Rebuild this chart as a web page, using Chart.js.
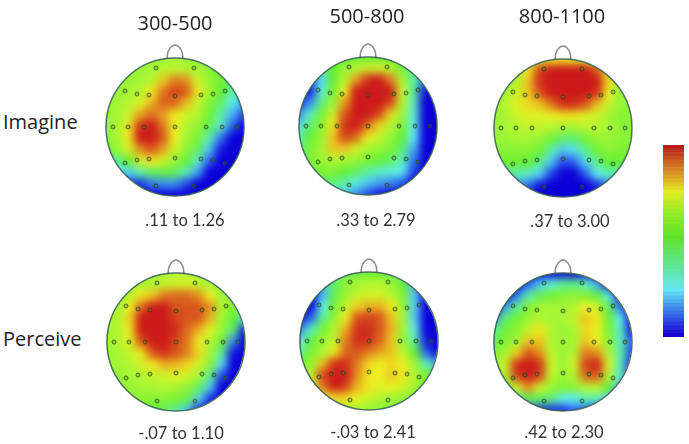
<!DOCTYPE html>
<html>
<head>
<meta charset="utf-8">
<title>Scalp maps</title>
<script src="https://cdn.jsdelivr.net/npm/chart.js@4"></script>
<style>
    html, body { margin: 0; padding: 0; background: #fff; }
    #page { position: relative; width: 689px; height: 444px; overflow: hidden; }
    .heat, .ring { position: absolute; width: 180px; height: 180px; }
    .heat { clip-path: circle(69px at 90px 90px); }
    .heat canvas { filter: blur(4.5px); }
    .label { position: absolute; transform: translate(-50%, -50%); white-space: nowrap; color: #222; }
    .title { font: 20px "Open Sans", sans-serif; }
    .row { font: 20px "Open Sans", sans-serif; transform: translate(0, -50%); }
    .range { font: 16.5px Lato, sans-serif; color: #333; }
    #bar { position: absolute; left: 663px; top: 145px; }
    #bar canvas { filter: blur(0.6px); }
</style>
</head>
<body>
<div id="page"></div>
<script>
// Window labels, condition labels and the range printed under each map
const windows = ['300-500', '500-800', '800-1100'];
const conditions = ['Imagine', 'Perceive'];
const imagineRanges = ['.11 to 1.26', '.33 to 2.79', '.37 to 3.00'];
const perceiveRanges = ['-.07 to 1.10', '-.03 to 2.41', '.42 to 2.30'];

// Amplitude on a 0-100 colour scale, 13 x 13 samples across each head, front row first
const imagine300 = [
    [58,58,58,58,58,58,60,58,56,54,50,46,42],
    [58,58,58,58,60,62,64,62,60,56,52,48,44],
    [58,58,58,60,62,75,84,82,66,58,52,45,38],
    [58,58,60,62,72,85,90,88,72,60,50,38,30],
    [58,60,62,68,78,87,86,76,64,55,45,30,20],
    [58,60,66,80,86,80,72,66,62,52,38,22,12],
    [58,60,72,92,96,85,70,62,58,48,32,14,6],
    [56,60,72,94,98,88,70,60,54,36,16,6,2],
    [50,58,66,82,88,80,66,58,46,24,8,2,0],
    [42,40,50,66,72,66,58,50,34,14,4,0,0],
    [28,28,25,38,45,48,46,36,20,6,0,0,0],
    [12,12,10,10,16,18,18,12,6,0,0,0,0],
    [2,2,2,2,2,2,2,0,0,0,0,0,0]
];
const imagine500 = [
    [40,40,44,50,50,50,50,50,50,46,40,30,20],
    [30,30,36,50,58,62,66,66,62,52,40,24,10],
    [14,14,26,50,62,80,92,94,84,62,40,18,5],
    [10,8,32,52,70,94,100,100,96,66,40,8,0],
    [10,18,42,58,80,98,100,100,90,64,36,4,0],
    [18,34,52,66,88,100,98,90,74,58,32,2,0],
    [26,44,56,72,92,94,86,74,62,54,30,2,0],
    [36,50,58,76,90,86,72,64,58,50,28,3,0],
    [40,54,60,76,76,66,60,58,54,44,22,4,0],
    [40,54,58,62,60,58,54,50,46,36,16,2,0],
    [44,50,54,54,50,46,40,34,32,28,12,0,0],
    [40,44,44,44,38,30,24,20,18,14,4,0,0],
    [30,30,30,30,24,18,12,8,6,4,0,0,0]
];
const imagine800 = [
    [60,60,60,62,66,70,72,70,66,62,60,60,60],
    [60,60,60,72,90,98,100,100,98,88,66,58,58],
    [58,58,62,76,92,100,100,100,100,96,74,58,55],
    [58,60,66,76,88,98,100,100,100,92,70,58,56],
    [58,62,68,74,76,84,92,92,88,76,64,58,56],
    [58,60,66,68,68,70,72,72,68,66,60,56,56],
    [58,60,62,64,64,62,60,60,62,62,60,56,56],
    [58,58,60,60,58,52,44,44,52,58,58,56,56],
    [56,56,56,56,52,38,24,26,40,52,56,54,54],
    [50,52,52,50,42,24,12,14,26,42,50,50,50],
    [40,40,38,34,26,12,4,6,14,28,36,38,40],
    [20,20,20,16,8,2,0,0,4,10,18,22,24],
    [5,5,5,4,2,0,0,0,0,2,4,5,5]
];
const perceive300 = [
    [60,60,60,60,60,60,62,62,60,58,56,54,50],
    [58,58,60,60,62,64,66,66,64,60,58,56,54],
    [58,58,62,72,76,84,86,86,82,70,60,56,50],
    [58,60,70,86,96,94,88,88,88,82,62,54,44],
    [60,62,74,96,100,98,90,88,88,78,60,50,34],
    [60,62,72,94,100,100,92,86,78,68,58,44,8],
    [60,62,68,88,98,98,90,84,72,62,52,18,2],
    [58,60,64,72,88,92,88,84,74,60,40,8,0],
    [58,60,62,66,72,78,78,74,66,56,26,4,0],
    [56,58,60,62,64,66,68,66,60,40,12,2,0],
    [54,56,58,60,60,62,60,58,46,24,6,0,0],
    [50,52,54,56,56,56,54,48,26,10,2,0,0],
    [50,50,50,50,50,46,40,24,8,0,0,0,0]
];
const perceive500 = [
    [30,30,30,36,44,48,50,50,46,36,20,10,5],
    [10,10,24,46,56,60,62,62,58,50,22,6,2],
    [2,2,22,46,58,64,66,66,62,54,24,4,0],
    [2,2,28,52,64,74,78,78,72,58,25,2,0],
    [8,14,40,56,70,88,90,88,76,60,24,2,0],
    [16,34,52,62,78,92,92,88,78,60,30,2,0],
    [28,48,58,64,84,92,92,86,76,58,38,8,2],
    [40,54,60,70,86,88,84,80,76,64,50,14,4],
    [50,58,76,92,92,84,74,70,74,70,58,36,20],
    [54,64,90,100,96,82,72,70,76,72,62,54,50],
    [50,66,84,98,90,78,72,68,70,66,60,52,44],
    [50,60,68,74,74,70,66,62,60,58,54,48,40],
    [50,56,60,62,62,60,58,56,54,52,48,44,40]
];
const perceive800 = [
    [0,0,0,0,2,4,6,6,4,2,0,0,0],
    [0,0,4,14,24,32,40,42,34,22,6,0,0],
    [0,4,16,36,46,52,55,56,54,48,30,8,0],
    [4,20,40,54,60,60,60,62,70,66,46,16,2],
    [18,44,52,58,62,60,60,64,76,72,52,28,4],
    [38,52,56,64,72,62,58,60,74,70,54,34,8],
    [48,54,60,76,76,62,58,60,76,70,56,36,14],
    [54,60,74,88,82,64,58,62,84,82,62,38,12],
    [56,66,92,100,92,66,58,66,90,94,68,36,10],
    [54,62,90,100,90,64,58,62,86,88,62,34,8],
    [44,52,66,82,66,58,54,56,62,64,50,24,4],
    [20,30,40,46,46,42,30,28,36,36,26,8,0],
    [6,10,14,14,10,10,10,14,14,10,4,0,0]
];

// Electrode montage, in head units where the scalp radius is 69
const electrodeX = [-19,19, -50,-38,-26,0,26,38,50, -62,-47,-31,0,31,47,62, -50,-38,-26,0,26,38,50, -19,19];
const electrodeY = [-59,-59, -36,-33,-32,-31,-32,-33,-36, 0,0,0,0,0,0,0, 36,33,32,31,32,33,36, 59,59];
const noseX = [-8,-7,-4,0,4,7,8];
const noseY = [-68,-75,-80,-82,-80,-75,-68];

// Levels shown in the colour bar, top to bottom
const barLevels = [100,98,96,94,92,90,88,86,84,82,80,78,76,74,72,70,68,66,64,62,60,58,56,54,52,
    50,48,46,44,42,40,38,36,34,32,30,28,26,24,22,20,18,16,14,12,10,8,6,4,2,0];

// Colour ramps: position on the scale, then rgb. The maps are blurred, so their ramp is tighter
const mapRamp = [
    [6, 12, 0, 216], [16, 50, 120, 240], [28, 96, 238, 245], [40, 90, 240, 150], [50, 100, 238, 50],
    [59, 158, 246, 55], [71, 242, 240, 32], [83, 226, 134, 32], [94, 204, 26, 26]
];
const barRamp = [
    [0, 24, 0, 210], [12, 55, 115, 235], [24, 100, 230, 240], [38, 95, 230, 140], [52, 96, 226, 40],
    [65, 150, 236, 40], [76, 226, 236, 36], [88, 214, 130, 36], [100, 184, 30, 30]
];

function heatColor(v, ramp) {
    if (v <= ramp[0][0]) {
        return `rgb(${ramp[0].slice(1).join(',')})`;
    }
    for (let i = 1; i < ramp.length; i++) {
        if (v <= ramp[i][0]) {
            const a = ramp[i - 1], b = ramp[i];
            const t = (v - a[0]) / (b[0] - a[0]);
            const mix = k => Math.round(a[k] + (b[k] - a[k]) * t);
            return `rgb(${mix(1)},${mix(2)},${mix(3)})`;
        }
    }
    return `rgb(${ramp[ramp.length - 1].slice(1).join(',')})`;
}

const page = document.getElementById('page');

function addCanvas(parent, width, height) {
    const canvas = document.createElement('canvas');
    canvas.width = width;
    canvas.height = height;
    canvas.style.display = 'block';
    parent.appendChild(canvas);
    return canvas;
}

function addLabel(text, cls, x, y) {
    const div = document.createElement('div');
    div.className = 'label ' + cls;
    div.textContent = text;
    div.style.left = x + 'px';
    div.style.top = y + 'px';
    page.appendChild(div);
}

const hiddenAxis = (min, max, reverse) => ({ type: 'linear', display: false, min: min, max: max, reverse: reverse });
const bareOptions = {
    responsive: false,
    animation: false,
    events: [],
    layout: { padding: 0, autoPadding: false },
    plugins: { legend: { display: false }, tooltip: { enabled: false } }
};

// One smooth-looking map: a grid of square cells, blurred and clipped by its wrapper
function drawHeat(grid, cx, cy) {
    const wrap = document.createElement('div');
    wrap.className = 'heat';
    wrap.style.left = (cx - 90) + 'px';
    wrap.style.top = (cy - 90) + 'px';
    page.appendChild(wrap);

    const cells = [];
    grid.forEach((row, j) => row.forEach((v, i) => cells.push({ x: i - 6, y: j - 6, v: v })));

    new Chart(addCanvas(wrap, 180, 180), {
        type: 'scatter',
        data: {
            datasets: [{
                data: cells,
                pointStyle: 'rect',
                pointRadius: 9,
                borderWidth: 0,
                clip: false,
                backgroundColor: ctx => heatColor(ctx.raw.v, mapRamp)
            }]
        },
        options: {
            ...bareOptions,
            scales: { x: hiddenAxis(-7.826, 7.826, false), y: hiddenAxis(-7.826, 7.826, true) }
        }
    });
}

// Scalp outline, nose and electrode rings on top of the map
function drawHead(cx, cy) {
    const wrap = document.createElement('div');
    wrap.className = 'ring';
    wrap.style.left = (cx - 90) + 'px';
    wrap.style.top = (cy - 90) + 'px';
    page.appendChild(wrap);

    new Chart(addCanvas(wrap, 180, 180), {
        type: 'scatter',
        data: {
            datasets: [
                {
                    data: electrodeX.map((x, i) => ({ x: x, y: electrodeY[i] })),
                    pointRadius: 2,
                    borderWidth: 1,
                    clip: false,
                    borderColor: 'rgba(40,70,30,0.75)',
                    backgroundColor: 'rgba(70,120,40,0.25)'
                },
                {
                    data: [{ x: 0, y: 0 }],
                    pointRadius: 69,
                    borderWidth: 1.5,
                    clip: false,
                    borderColor: 'rgba(50,90,80,0.85)',
                    backgroundColor: 'transparent'
                },
                {
                    type: 'line',
                    data: noseX.map((x, i) => ({ x: x, y: noseY[i] })),
                    pointRadius: 0,
                    borderWidth: 1.5,
                    borderColor: '#8a8a8a',
                    tension: 0.4,
                    fill: false
                }
            ]
        },
        options: {
            ...bareOptions,
            scales: { x: hiddenAxis(-90, 90, false), y: hiddenAxis(-90, 90, true) }
        }
    });
}

const heads = [
    [imagine300, 175, 127], [imagine500, 368, 126], [imagine800, 563, 128],
    [perceive300, 175.5, 342], [perceive500, 368.5, 341], [perceive800, 562.5, 342]
];
heads.forEach(h => {
    drawHeat(h[0], h[1], h[2]);
    drawHead(h[1], h[2]);
});

// Colour bar as a stack of full-width bars
const barWrap = document.createElement('div');
barWrap.id = 'bar';
page.appendChild(barWrap);
new Chart(addCanvas(barWrap, 21, 192), {
    type: 'bar',
    data: {
        labels: barLevels,
        datasets: [{
            data: barLevels.map(() => 1),
            backgroundColor: barLevels.map(v => heatColor(v, barRamp)),
            barPercentage: 1.15,
            categoryPercentage: 1
        }]
    },
    options: {
        ...bareOptions,
        indexAxis: 'y',
        scales: { x: { display: false, min: 0, max: 1 }, y: { display: false } }
    }
});

addLabel(windows[0], 'title', 175, 22);
addLabel(windows[1], 'title', 367, 15);
addLabel(windows[2], 'title', 562, 15);
addLabel(conditions[0], 'row', 3, 121);
addLabel(conditions[1], 'row', 3, 338);
addLabel(imagineRanges[0], 'range', 185, 220);
addLabel(imagineRanges[1], 'range', 376, 220);
addLabel(imagineRanges[2], 'range', 570, 221);
addLabel(perceiveRanges[0], 'range', 181, 433);
addLabel(perceiveRanges[1], 'range', 373, 432);
addLabel(perceiveRanges[2], 'range', 564, 432);
</script>
</body>
</html>
